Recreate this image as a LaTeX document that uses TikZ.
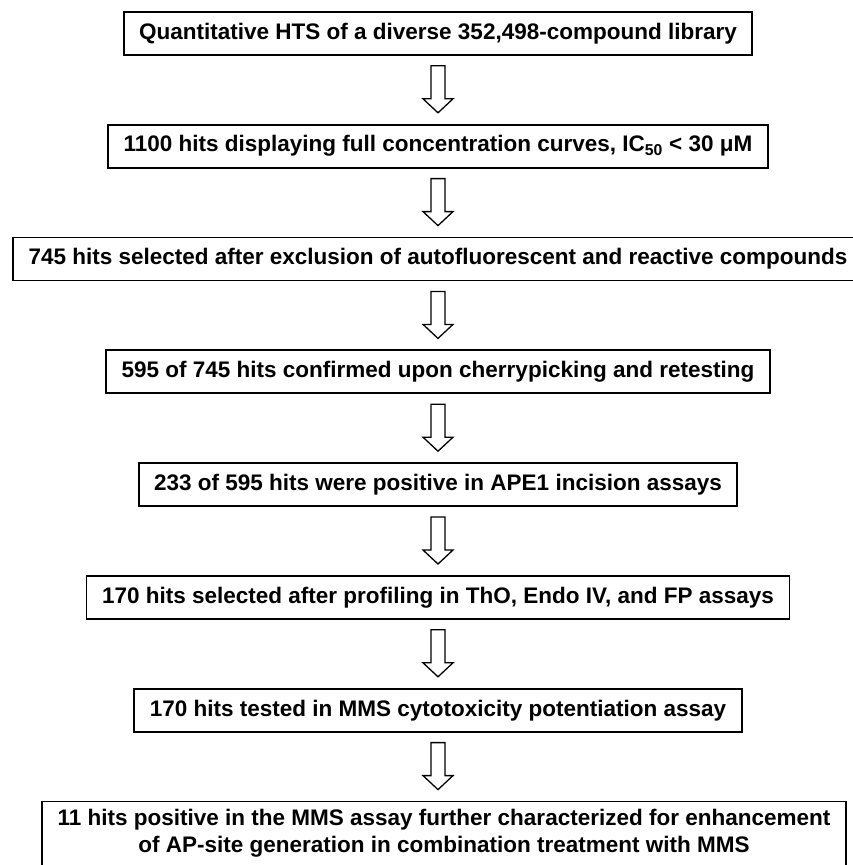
\documentclass[tikz,border=0pt]{standalone}
\usepackage{fontspec}
\setmainfont{Liberation Sans}
\usetikzlibrary{positioning, calc}
\tikzset{
  stepbox/.style={draw, line width=1.8pt, minimum height=43pt, inner xsep=15.5pt, inner ysep=8pt,
    font=\fontsize{22.5}{27}\selectfont\bfseries, align=center},
  flowarrow/.style={draw, line width=1.3pt, fill=white, line join=miter}
}
% hollow block arrow from the bottom of one box to the top of the next
\newcommand{\hollowdown}[2]{%
  \draw[flowarrow] ($(#1.south)+(-7pt,-10pt)$) -- ($(#1.south)+(7pt,-10pt)$)
    -- ($(#1.south |- #2.north)+(7pt,25pt)$) -- ($(#1.south |- #2.north)+(15pt,25pt)$)
    -- ($(#1.south |- #2.north)+(0pt,11pt)$) -- ($(#1.south |- #2.north)+(-15pt,25pt)$)
    -- ($(#1.south |- #2.north)+(-7pt,25pt)$) -- cycle;}

\begin{document}
\begin{tikzpicture}[node distance=68pt]
\useasboundingbox (0,0) rectangle (852pt,-865pt);
\node[stepbox, anchor=north] (hts) at (438pt,-11pt) {Quantitative HTS of a diverse 352,498-compound library};
\node[stepbox, below=of hts] (curves) {1100 hits displaying full concentration curves, IC\textsubscript{50} < 30 μM};
\node[stepbox, below=of curves] (exclusion) {745 hits selected after exclusion of autofluorescent and reactive compounds};
\node[stepbox, below=of exclusion] (retest) {595 of 745 hits confirmed upon cherrypicking and retesting};
\node[stepbox, below=of retest] (incision) {233 of 595 hits were positive in APE1 incision assays};
\node[stepbox, below=of incision] (profiling) {170 hits selected after profiling in ThO, Endo IV, and FP assays};
\node[stepbox, below=of profiling] (mms) {170 hits tested in MMS cytotoxicity potentiation assay};
\node[stepbox, below=of mms, xshift=6pt] (apsite) {11 hits positive in the MMS assay further characterized for enhancement\\of AP-site generation in combination treatment with MMS};
\hollowdown{hts}{curves}
\hollowdown{curves}{exclusion}
\hollowdown{exclusion}{retest}
\hollowdown{retest}{incision}
\hollowdown{incision}{profiling}
\hollowdown{profiling}{mms}
\hollowdown{mms}{apsite}
\end{tikzpicture}
\end{document}
